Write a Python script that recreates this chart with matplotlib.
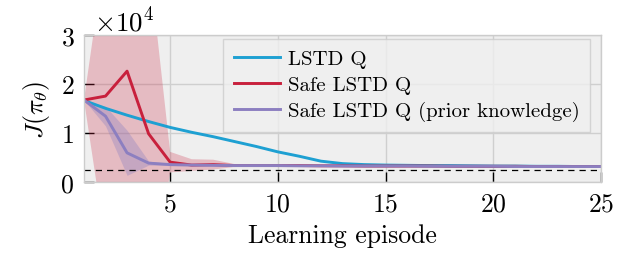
import numpy as np
import matplotlib
matplotlib.use('Agg')
import matplotlib.pyplot as plt

plt.rcParams['font.family'] = 'serif'
plt.rcParams['font.serif'] = ['cmr10', 'DejaVu Serif']
plt.rcParams['mathtext.fontset'] = 'cm'
plt.rcParams['axes.formatter.use_mathtext'] = True
plt.rcParams['axes.unicode_minus'] = False

# episode index
episodes = np.arange(1, 26)

# J(pi_theta) in units of 1e4
lstd_q = [1.66, 1.50, 1.36, 1.23, 1.11, 1.01, 0.92, 0.82, 0.72, 0.61,
          0.52, 0.42, 0.37, 0.35, 0.34, 0.335, 0.33, 0.33, 0.325, 0.32,
          0.32, 0.315, 0.315, 0.31, 0.31]
safe_q = [1.67, 1.75, 2.26, 0.98, 0.40, 0.34, 0.35, 0.33, 0.33, 0.33,
          0.33, 0.325, 0.325, 0.32, 0.32, 0.32, 0.32, 0.315, 0.315, 0.315,
          0.315, 0.31, 0.31, 0.31, 0.31]
safe_q_std = [0.0, 3.0, 3.5, 3.6, 0.21, 0.12, 0.10, 0.03, 0.02, 0.015,
              0.01, 0.01, 0.01, 0.01, 0.01, 0.01, 0.01, 0.01, 0.01, 0.01,
              0.01, 0.01, 0.01, 0.01, 0.01]
prior_q = [1.67, 1.34, 0.59, 0.38, 0.35, 0.34, 0.335, 0.33, 0.33, 0.33,
           0.325, 0.325, 0.32, 0.32, 0.32, 0.32, 0.315, 0.315, 0.315, 0.315,
           0.31, 0.31, 0.31, 0.31, 0.31]
prior_q_std = [0.0, 0.2, 0.46, 0.04, 0.02, 0.01, 0.01, 0.01, 0.01, 0.01,
               0.01, 0.01, 0.01, 0.01, 0.01, 0.01, 0.01, 0.01, 0.01, 0.01,
               0.01, 0.01, 0.01, 0.01, 0.01]
optimal = 0.245

scale = 1e4
lstd_q = np.array(lstd_q) * scale
safe_q = np.array(safe_q) * scale
safe_q_std = np.array(safe_q_std) * scale
prior_q = np.array(prior_q) * scale
prior_q_std = np.array(prior_q_std) * scale

blue = '#1ea0d2'
red = '#c8203c'
purple = '#8c7fc0'
bg = '#efefef'

fig = plt.figure(figsize=(6.24, 2.55), dpi=100)
ax = fig.add_axes([0.1346, 0.2835, 0.8284, 0.5755])
ax.set_facecolor(bg)

ax.fill_between(episodes, safe_q - safe_q_std, safe_q + safe_q_std,
                color=red, alpha=0.25, linewidth=0)
ax.fill_between(episodes, prior_q - prior_q_std, prior_q + prior_q_std,
                color=purple, alpha=0.35, linewidth=0)

ax.plot(episodes, lstd_q, color=blue, lw=2.1, label='LSTD Q')
ax.plot(episodes, safe_q, color=red, lw=2.1, label='Safe LSTD Q')
ax.plot(episodes, prior_q, color=purple, lw=2.1,
        label='Safe LSTD Q (prior knowledge)')
ax.axhline(optimal * scale, color='k', ls=(0, (5, 4)), lw=0.9)

ax.set_xlim(1, 25)
ax.set_ylim(0, 3e4)
ax.set_xticks([5, 10, 15, 20, 25])
ax.set_yticks([0, 1e4, 2e4, 3e4])
ax.ticklabel_format(style='sci', axis='y', scilimits=(0, 0))
ax.yaxis.get_offset_text().set_fontsize(19.5)
ax.yaxis.get_offset_text().set_x(0.02)
ax.tick_params(direction='in', length=7, width=1, labelsize=18.5, pad=7,
               color='k')
ax.grid(True, color='#cfcfcf', lw=1)
ax.set_axisbelow(True)
for s in ax.spines.values():
    s.set_color('#cccccc')
    s.set_linewidth(1)

ax.set_xlabel('Learning episode', fontsize=18.5, labelpad=6)
ax.set_ylabel(r'$J(\pi_\theta)$', fontsize=18.5, labelpad=6)

ax.legend(loc='upper right', fontsize=15, handlelength=2.2,
          handletextpad=0.4, facecolor=bg, edgecolor='#cccccc',
          fancybox=False, borderpad=0.5, labelspacing=0.35,
          borderaxespad=0, bbox_to_anchor=(0.979, 0.973))

plt.savefig('out.png', dpi=100)
